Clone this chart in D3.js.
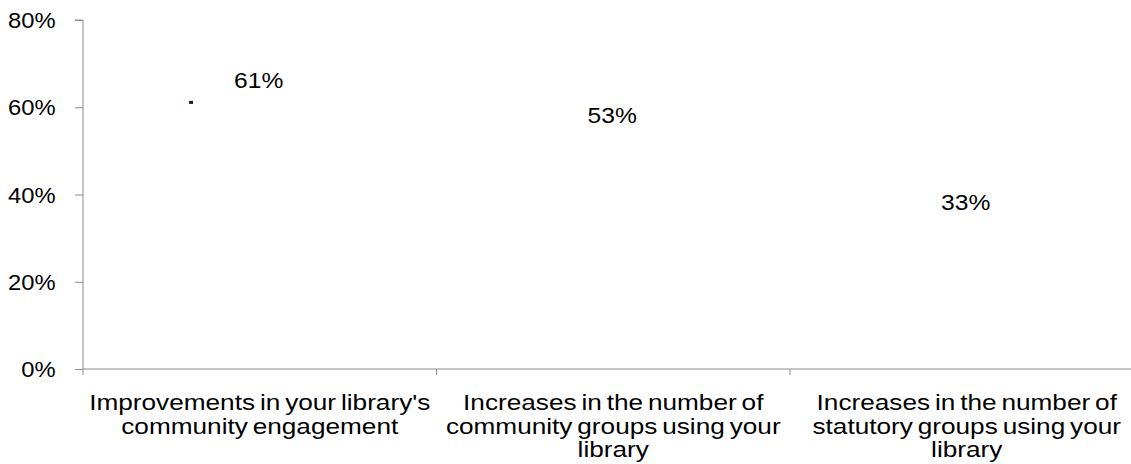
<!DOCTYPE html>
<html>
<head>
<meta charset="utf-8">
<script src="https://cdn.jsdelivr.net/npm/d3@7"></script>
<style>
  html, body { margin: 0; padding: 0; background: #fff; }
  svg { display: block; font-family: "Liberation Sans", Arial, sans-serif; }
</style>
</head>
<body>
<svg id="chart" width="1131" height="464"></svg>
<script>
const categories = [
  "Improvements in your library's community engagement",
  "Increases in the number of community groups using your library",
  "Increases in the number of statutory groups using your library"
];
const values = [61, 53, 33];
const yTicks = [0, 20, 40, 60, 80];

const svg = d3.select("#chart");
const margin = { left: 83, top: 20, bottom: 369 };
const bandW = 353.5;
const fontSize = 22;
const axisColor = "#8c8c8c";

const x = d3.scaleBand()
  .domain(categories)
  .range([margin.left, margin.left + bandW * categories.length])
  .padding(0);

const y = d3.scaleLinear().domain([0, 80]).range([margin.bottom, margin.top]);

// Text with a slight horizontal stretch, positioned by its anchor point
function stretchedText(parent, tx, ty, str, anchor, sx) {
  return parent.append("text")
    .attr("transform", `translate(${tx},${ty}) scale(${sx},1)`)
    .attr("text-anchor", anchor)
    .style("font-size", fontSize + "px")
    .attr("fill", "#000")
    .text(str);
}

// Y axis
const yAxis = svg.append("g")
  .attr("transform", `translate(${margin.left},0)`)
  .call(d3.axisLeft(y).tickValues(yTicks).tickFormat("").tickSize(8));
yAxis.select(".domain").attr("stroke", axisColor).attr("d", `M-8,${y(80)}H0V${y(0)}`);
yAxis.selectAll(".tick line").attr("stroke", axisColor);
yTicks.forEach(t => stretchedText(svg, 55.5, y(t) + 8, t + "%", "end", 1.08));

// X axis
const xAxis = svg.append("g")
  .attr("transform", `translate(0,${margin.bottom})`);
xAxis.append("line")
  .attr("x1", margin.left).attr("x2", margin.left + bandW * categories.length)
  .attr("stroke", axisColor);
xAxis.selectAll("line.tick")
  .data(d3.range(categories.length + 1))
  .join("line")
  .attr("class", "tick")
  .attr("x1", i => margin.left + i * bandW)
  .attr("x2", i => margin.left + i * bandW)
  .attr("y1", 0).attr("y2", 6)
  .attr("stroke", axisColor);

// Category labels, wrapped into lines
const labelScale = 1.19;
function wrapWords(text, maxW) {
  const c = document.createElement("canvas").getContext("2d");
  c.font = `${fontSize}px 'Liberation Sans'`;
  const words = text.split(" ");
  const lines = [];
  let line = "";
  words.forEach(w => {
    const t = line ? line + " " + w : w;
    if (c.measureText(t).width * labelScale > maxW && line) { lines.push(line); line = w; }
    else line = t;
  });
  if (line) lines.push(line);
  return lines;
}

categories.forEach(cat => {
  const lines = wrapWords(cat, 352);
  const cx = x(cat) + x.bandwidth() / 2;
  lines.forEach((ln, i) => {
    stretchedText(svg, cx, 410 + i * 23.5, ln, "middle", labelScale)
      .style("word-spacing", "-2px");
  });
});

// Value labels
values.forEach((d, i) => {
  stretchedText(svg, x(categories[i]) + x.bandwidth() / 2 - 1, y(d) - 15, d + "%", "middle", 1.12);
});

// Point marker for the first category
svg.append("rect")
  .attr("x", x(categories[0]) + x.bandwidth() * 0.3)
  .attr("y", y(values[0]) - 2)
  .attr("width", 4)
  .attr("height", 3)
  .attr("fill", "#0b2a0b");
</script>
</body>
</html>
